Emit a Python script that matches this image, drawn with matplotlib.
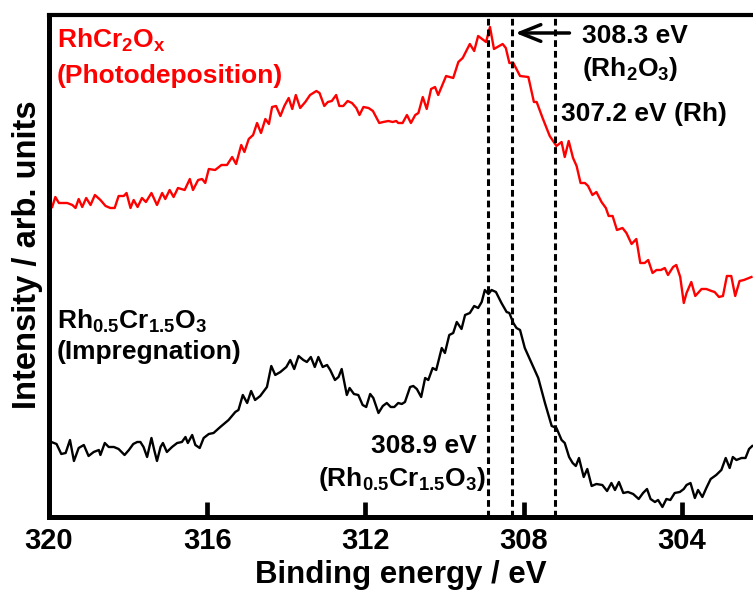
import numpy as np
import matplotlib
matplotlib.use('Agg')
import matplotlib.pyplot as plt

plt.rcParams['font.family'] = ['Liberation Sans', 'DejaVu Sans']
plt.rcParams['font.weight'] = 'bold'
plt.rcParams['mathtext.fontset'] = 'custom'
plt.rcParams['mathtext.rm'] = 'Liberation Sans:bold'
plt.rcParams['mathtext.it'] = 'Liberation Sans:bold'
plt.rcParams['mathtext.bf'] = 'Liberation Sans:bold'

# Rh 3d XPS, photodeposited RhCr2Ox (red, upper trace)
photo_be = [319.92, 319.84, 319.75, 319.54, 319.41, 319.33, 319.25, 319.16, 319.06, 318.95,
            318.84, 318.70, 318.57, 318.45, 318.34, 318.24, 318.11, 318.04, 317.94, 317.86,
            317.76, 317.65, 317.55, 317.41, 317.27, 317.14, 317.06, 316.95, 316.85, 316.74,
            316.57, 316.44, 316.36, 316.23, 316.13, 316.05, 315.96, 315.80, 315.64, 315.50,
            315.37, 315.27, 315.14, 315.06, 314.95, 314.84, 314.74, 314.64, 314.53, 314.44,
            314.36, 314.26, 314.15, 314.05, 313.94, 313.85, 313.76, 313.65, 313.52, 313.40,
            313.24, 313.16, 313.04, 312.95, 312.85, 312.74, 312.66, 312.56, 312.45, 312.34,
            312.23, 312.15, 312.05, 311.92, 311.81, 311.65, 311.55, 311.42, 311.31, 311.22,
            311.17, 311.06, 310.95, 310.85, 310.74, 310.66, 310.55, 310.45, 310.34, 310.24,
            310.16, 309.96, 309.78, 309.65, 309.54, 309.36, 309.25, 309.15, 308.95, 308.85,
            308.75, 308.53, 308.45, 308.36, 308.26, 308.09, 307.88, 307.74, 307.67, 307.52,
            307.34, 307.17, 307.04, 306.96, 306.86, 306.75, 306.66, 306.56, 306.45, 306.37,
            306.26, 306.16, 306.03, 305.92, 305.85, 305.75, 305.64, 305.50, 305.40, 305.27,
            305.15, 305.05, 304.94, 304.85, 304.74, 304.64, 304.53, 304.43, 304.35, 304.22,
            304.14, 304.04, 303.95, 303.88, 303.76, 303.66, 303.50, 303.38, 303.25, 303.17,
            303.06, 302.96, 302.86, 302.75, 302.65, 302.54, 302.43, 302.24]
photo_int = [310, 320, 314, 314, 312, 309, 318, 310, 319, 312,
             322, 317, 311, 309, 309, 321, 321, 324, 309, 317,
             310, 319, 315, 324, 312, 324, 318, 327, 320, 329,
             327, 338, 327, 337, 338, 334, 348, 347, 352, 352,
             360, 353, 372, 365, 378, 382, 394, 384, 398, 393,
             410, 411, 401, 411, 419, 408, 422, 409, 415, 422,
             426, 424, 411, 415, 416, 422, 411, 411, 416, 414,
             409, 402, 410, 409, 406, 394, 395, 396, 395, 396,
             394, 394, 402, 394, 402, 404, 420, 408, 428, 430,
             422, 441, 439, 455, 459, 473, 466, 481, 475, 490,
             468, 473, 469, 454, 454, 441, 440, 415, 415, 399,
             381, 371, 375, 360, 376, 359, 351, 334, 334, 331,
             322, 325, 315, 309, 301, 301, 287, 289, 284, 273,
             278, 254, 254, 257, 244, 247, 247, 249, 242, 250,
             252, 240, 214, 224, 235, 221, 228, 228, 226, 225,
             220, 221, 241, 241, 221, 236, 237, 240]

# Rh0.5Cr1.5O3 by impregnation (black, lower trace)
impreg_be = [319.94, 319.81, 319.69, 319.58, 319.47, 319.37, 319.25, 319.12, 319.00, 318.87,
             318.74, 318.70, 318.59, 318.49, 318.36, 318.24, 318.09, 317.98, 317.87, 317.77,
             317.69, 317.61, 317.52, 317.41, 317.34, 317.27, 317.18, 317.12, 317.02, 316.89,
             316.76, 316.64, 316.55, 316.49, 316.38, 316.30, 316.19, 316.09, 315.96, 315.84,
             315.67, 315.46, 315.29, 315.21, 315.10, 314.99, 314.89, 314.79, 314.66, 314.49,
             314.38, 314.28, 314.15, 314.00, 313.90, 313.80, 313.69, 313.57, 313.48, 313.38,
             313.28, 313.19, 313.08, 312.97, 312.89, 312.77, 312.68, 312.60, 312.47, 312.40,
             312.29, 312.18, 312.07, 311.98, 311.88, 311.80, 311.67, 311.56, 311.46, 311.36,
             311.27, 311.17, 311.08, 311.00, 310.87, 310.79, 310.70, 310.59, 310.49, 310.41,
             310.30, 310.21, 310.07, 309.99, 309.88, 309.78, 309.69, 309.57, 309.48, 309.36,
             309.25, 309.15, 309.06, 308.98, 308.89, 308.81, 308.70, 308.56, 308.43, 308.36,
             308.26, 308.18, 308.09, 307.97, 307.80, 307.63, 307.46, 307.29, 307.17, 307.04,
             306.96, 306.85, 306.76, 306.68, 306.60, 306.48, 306.39, 306.28, 306.16, 306.01,
             305.89, 305.78, 305.69, 305.59, 305.48, 305.36, 305.23, 305.09, 304.98, 304.88,
             304.79, 304.68, 304.60, 304.49, 304.39, 304.29, 304.18, 304.05, 303.95, 303.88,
             303.78, 303.67, 303.59, 303.48, 303.38, 303.27, 303.13, 303.00, 302.89, 302.79,
             302.71, 302.62, 302.49, 302.39, 302.30, 302.22]
impreg_int = [75, 73, 63, 64, 77, 56, 69, 72, 61, 65,
              67, 62, 74, 70, 70, 68, 62, 67, 73, 75,
              75, 70, 60, 79, 67, 56, 70, 74, 65, 70,
              74, 75, 80, 74, 82, 72, 69, 79, 83, 84,
              90, 97, 105, 107, 122, 114, 126, 117, 121, 130,
              151, 142, 145, 150, 157, 148, 161, 157, 155, 160,
              150, 160, 150, 152, 147, 137, 140, 148, 122, 129,
              123, 122, 112, 110, 123, 119, 104, 111, 114, 110,
              110, 114, 113, 115, 130, 131, 128, 120, 139, 137,
              149, 147, 169, 164, 182, 184, 195, 188, 202, 204,
              211, 209, 215, 227, 223, 227, 225, 214, 205, 204,
              194, 189, 187, 169, 154, 139, 114, 91, 89, 77,
              74, 60, 54, 51, 59, 40, 48, 31, 33, 32,
              26, 34, 27, 35, 24, 25, 23, 18, 24, 28,
              18, 15, 17, 10, 18, 17, 24, 25, 28, 32,
              34, 19, 27, 20, 29, 38, 42, 47, 59, 49,
              60, 57, 59, 59, 68, 71]

ref_lines = [308.9, 308.3, 307.2]
xticks = [320, 316, 312, 308, 304]

fig = plt.figure(figsize=(7.53, 5.95), dpi=100)
ax = fig.add_axes([0.0651, 0.1311, 0.9349, 0.8437])

ax.plot(photo_be, photo_int, color='#ff0000', lw=1.7, zorder=2)
ax.plot(impreg_be, impreg_int, color='black', lw=1.7, zorder=2)

for be in ref_lines:
    ax.axvline(be, color='black', lw=2.2, linestyle=(0, (2.2, 1.3)), zorder=3)

ax.set_xlim(320, 302.2)
ax.set_ylim(0, 502)
ax.set_xticks(xticks)
ax.set_xticklabels([str(t) for t in xticks], fontsize=21, fontweight='bold')
ax.set_yticks([])
ax.tick_params(axis='x', direction='in', length=10.5, width=3.4, pad=7)

for side in ['left', 'bottom']:
    ax.spines[side].set_linewidth(3.6)
ax.spines['top'].set_linewidth(3)
ax.spines['right'].set_visible(False)

ax.set_xlabel('Binding energy / eV', fontsize=22.5, fontweight='bold', labelpad=4)
ax.set_ylabel('Intensity / arb. units', fontsize=23.5, fontweight='bold')
ax.yaxis.set_label_coords(-0.009, 0.522)

# sample labels
ax.text(319.80, 469, r'RhCr$_{2}$O$_{x}$', color='#ff0000', fontsize=19, fontweight='bold')
ax.text(319.80, 434, '(Photodeposition)', color='#ff0000', fontsize=19, fontweight='bold')
ax.text(319.80, 188, r'Rh$_{0.5}$Cr$_{1.5}$O$_{3}$', color='black', fontsize=19, fontweight='bold')
ax.text(319.80, 158, '(Impregnation)', color='black', fontsize=19, fontweight='bold')

# peak assignments
ax.annotate('', xy=(308.28, 484), xytext=(306.77, 484),
            arrowprops=dict(arrowstyle='->,head_length=1.5,head_width=0.6',
                            color='black', lw=2.5))
ax.text(306.52, 474, '308.3 eV', fontsize=19, fontweight='bold')
ax.text(306.52, 441, r'(Rh$_{2}$O$_{3}$)', fontsize=19, fontweight='bold')
ax.text(307.05, 396, '307.2 eV (Rh)', fontsize=19, fontweight='bold')
ax.text(311.85, 64, '308.9 eV', fontsize=19, fontweight='bold')
ax.text(313.21, 31, r'(Rh$_{0.5}$Cr$_{1.5}$O$_{3}$)', fontsize=19, fontweight='bold')

fig.savefig('out.png', dpi=100)
